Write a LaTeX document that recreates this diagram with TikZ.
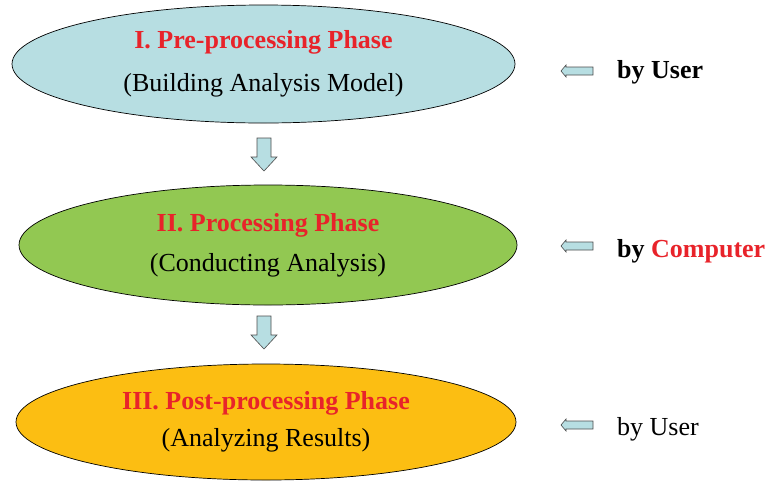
\documentclass[tikz,border=0pt]{standalone}
\usepackage{fontspec}
\setmainfont{Liberation Serif}
\usetikzlibrary{shapes.geometric, positioning}
\definecolor{stageblue}{RGB}{183, 222, 226}
\definecolor{stagegreen}{RGB}{146, 200, 82}
\definecolor{stagegold}{RGB}{252, 190, 18}
\definecolor{titlered}{RGB}{232, 35, 42}

\tikzset{
  phase/.style={draw=black, line width=0.7pt, ellipse, minimum width=503pt, minimum height=118pt,
    inner sep=0pt, align=center, font=\fontsize{26}{43}\selectfont},
  blockarrow/.style={draw=black!70, fill=stageblue, line width=0.6pt, line join=miter},
  % hollow block arrow pointing down, anchored at the middle of its tail
  downflow/.pic={
    \draw[blockarrow] (-7,0) -- (7,0) -- (7,19) -- (13,19) -- (0,33)
      -- (-13,19) -- (-7,19) -- cycle;
  },
  % small block arrow pointing left, anchored at the middle of its tail
  leftflow/.pic={
    \draw[blockarrow] (0,-4) -- (-27,-4) -- (-27,-6) -- (-32,0)
      -- (-27,6) -- (-27,4) -- (0,4) -- cycle;
  },
  actor/.style={anchor=base west, inner sep=0pt, font=\fontsize{26}{30}\selectfont}
}
\newcommand{\phasetitle}[1]{{\color{titlered}\bfseries #1}}

\begin{document}
\begin{tikzpicture}[x=1pt, y=-1pt]
  \useasboundingbox (0,0) rectangle (768,480);

  % the three phases
  \node[phase, fill=stageblue] (pre) at (263.5, 64)
    {\phasetitle{I. Pre-processing Phase}\\(Building Analysis Model)};
  \node[phase, fill=stagegreen, minimum width=498pt, minimum height=120pt,
    font=\fontsize{26}{40}\selectfont] (proc) at (268, 245)
    {\phasetitle{II. Processing Phase}\\(Conducting Analysis)};
  \node[phase, fill=stagegold, minimum width=500pt, minimum height=116pt,
    font=\fontsize{26}{37}\selectfont] (post) at (266, 422)
    {\phasetitle{III. Post-processing Phase}\\(Analyzing Results)};

  % flow between phases
  \pic (flowa) at (264, 138) {downflow};
  \pic (flowb) at (264, 316) {downflow};

  % who does each phase
  \pic (usera) at (593, 71) {leftflow};
  \pic (comp) at (593, 246) {leftflow};
  \pic (userb) at (593, 425) {leftflow};

  \node[actor] (byusera) at (617, 78) {\bfseries by User};
  \node[actor] (bycomp) at (617, 257) {\bfseries by \textcolor{titlered}{Computer}};
  \node[actor] (byuserb) at (617, 435) {by User};
\end{tikzpicture}
\end{document}
